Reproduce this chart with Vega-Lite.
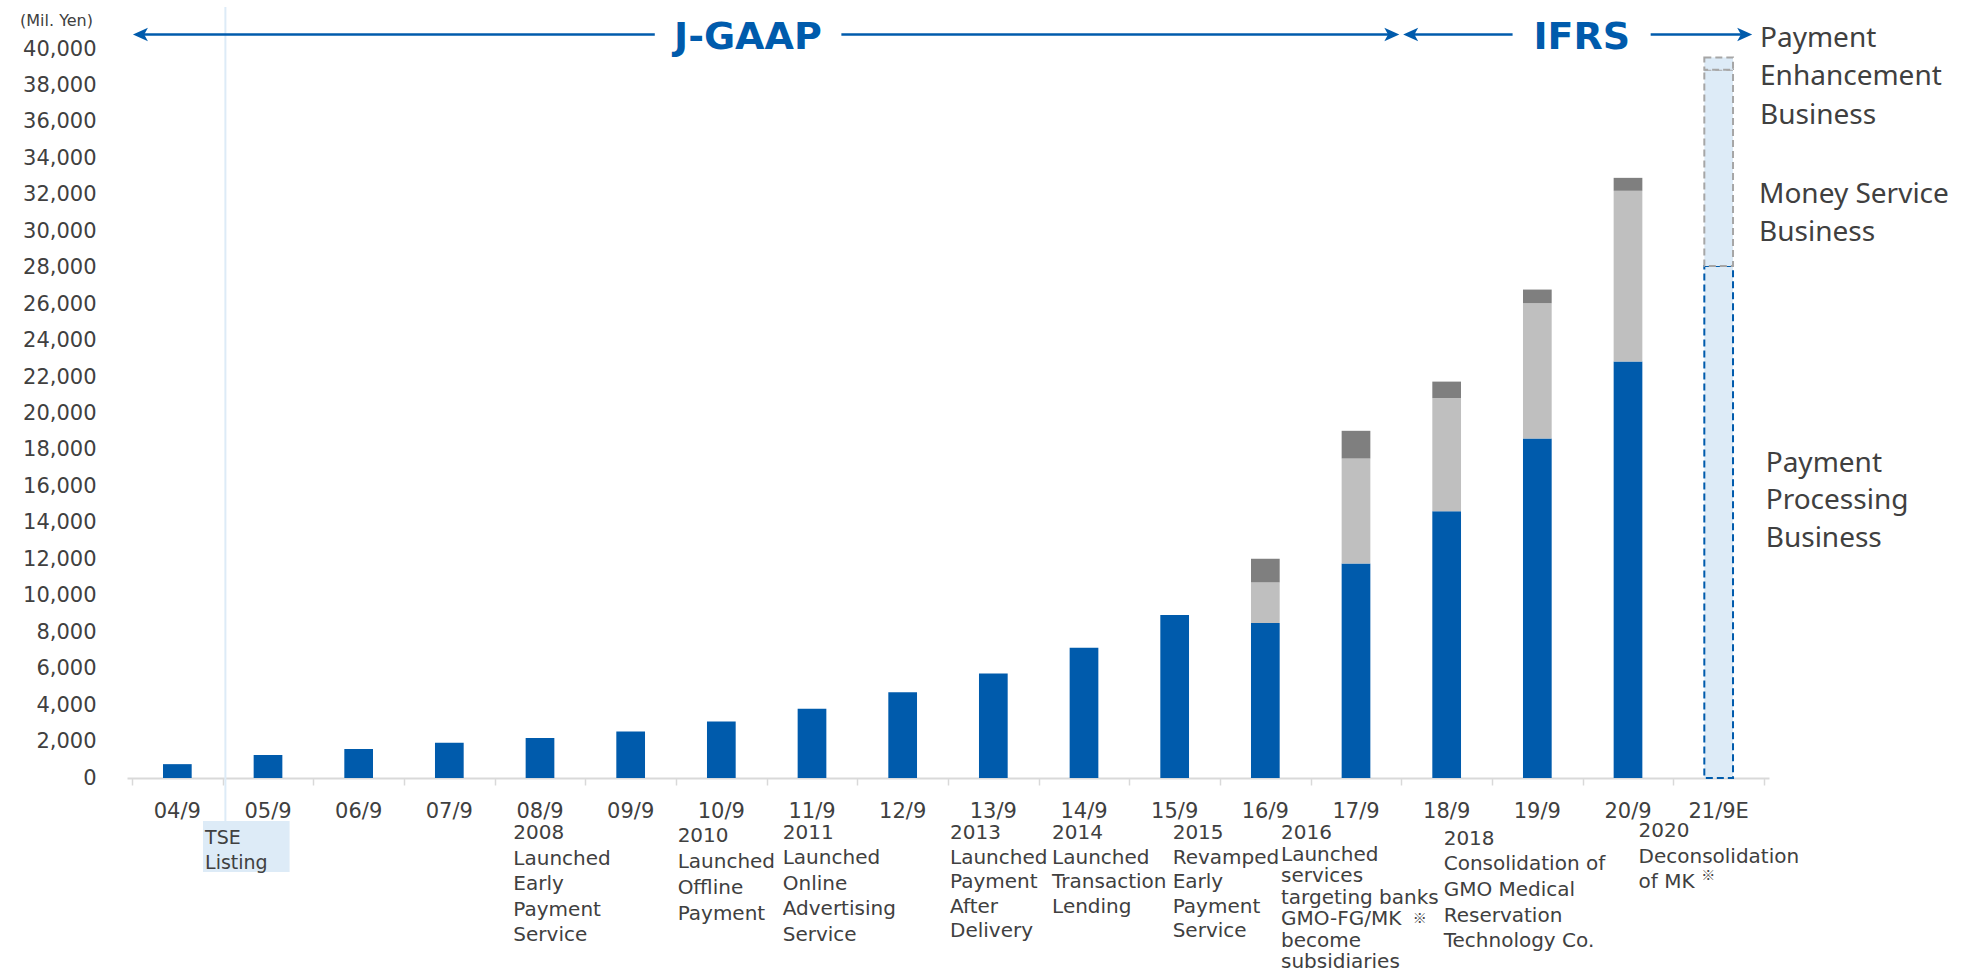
{
  "$schema": "https://vega.github.io/schema/vega-lite/v6.json",
  "width": 1642,
  "height": 729,
  "autosize": {"type": "none"},
  "padding": {"left": 127, "top": 49, "right": 212, "bottom": 196},
  "background": "#ffffff",
  "config": {"view": {"stroke": null}, "axis": {"grid": false, "labelOverlap": false, "labelSeparation": 0}, "axisY": {"labelOverlap": false}},
  "datasets": {
    "revenue": [
      {"period": "04/9", "fy": 2004, "segment": "Processing", "revenue": 760, "type": "actual"},
      {"period": "05/9", "fy": 2005, "segment": "Processing", "revenue": 1260, "type": "actual"},
      {"period": "06/9", "fy": 2006, "segment": "Processing", "revenue": 1590, "type": "actual"},
      {"period": "07/9", "fy": 2007, "segment": "Processing", "revenue": 1930, "type": "actual"},
      {"period": "08/9", "fy": 2008, "segment": "Processing", "revenue": 2200, "type": "actual"},
      {"period": "09/9", "fy": 2009, "segment": "Processing", "revenue": 2550, "type": "actual"},
      {"period": "10/9", "fy": 2010, "segment": "Processing", "revenue": 3100, "type": "actual"},
      {"period": "11/9", "fy": 2011, "segment": "Processing", "revenue": 3800, "type": "actual"},
      {"period": "12/9", "fy": 2012, "segment": "Processing", "revenue": 4700, "type": "actual"},
      {"period": "13/9", "fy": 2013, "segment": "Processing", "revenue": 5740, "type": "actual"},
      {"period": "14/9", "fy": 2014, "segment": "Processing", "revenue": 7150, "type": "actual"},
      {"period": "15/9", "fy": 2015, "segment": "Processing", "revenue": 8950, "type": "actual"},
      {"period": "16/9", "fy": 2016, "segment": "Processing", "revenue": 8500, "type": "actual"},
      {"period": "16/9", "fy": 2016, "segment": "Money Service", "revenue": 2230, "type": "actual"},
      {"period": "16/9", "fy": 2016, "segment": "Enhancement", "revenue": 1300, "type": "actual"},
      {"period": "17/9", "fy": 2017, "segment": "Processing", "revenue": 11770, "type": "actual"},
      {"period": "17/9", "fy": 2017, "segment": "Money Service", "revenue": 5760, "type": "actual"},
      {"period": "17/9", "fy": 2017, "segment": "Enhancement", "revenue": 1520, "type": "actual"},
      {"period": "18/9", "fy": 2018, "segment": "Processing", "revenue": 14640, "type": "actual"},
      {"period": "18/9", "fy": 2018, "segment": "Money Service", "revenue": 6200, "type": "actual"},
      {"period": "18/9", "fy": 2018, "segment": "Enhancement", "revenue": 910, "type": "actual"},
      {"period": "19/9", "fy": 2019, "segment": "Processing", "revenue": 18630, "type": "actual"},
      {"period": "19/9", "fy": 2019, "segment": "Money Service", "revenue": 7420, "type": "actual"},
      {"period": "19/9", "fy": 2019, "segment": "Enhancement", "revenue": 750, "type": "actual"},
      {"period": "20/9", "fy": 2020, "segment": "Processing", "revenue": 22850, "type": "actual"},
      {"period": "20/9", "fy": 2020, "segment": "Money Service", "revenue": 9370, "type": "actual"},
      {"period": "20/9", "fy": 2020, "segment": "Enhancement", "revenue": 710, "type": "actual"},
      {"period": "21/9E", "fy": 2021, "segment": "Processing", "revenue": 28100, "type": "forecast"},
      {"period": "21/9E", "fy": 2021, "segment": "Money Service", "revenue": 10760, "type": "forecast"},
      {"period": "21/9E", "fy": 2021, "segment": "Enhancement", "revenue": 680, "type": "forecast"}
    ]
  },
  "data": {"name": "revenue"},
  "layer": [
    {
      "transform": [{"filter": "datum.type === 'actual'"}],
      "mark": {"type": "bar", "width": 28.7},
      "encoding": {
        "x": {
          "field": "fy", "type": "quantitative",
          "scale": {"domain": [2003.5, 2021.5], "nice": false, "zero": false},
          "axis": {
            "values": [2003.5, 2004.5, 2005.5, 2006.5, 2007.5, 2008.5, 2009.5, 2010.5, 2011.5, 2012.5, 2013.5, 2014.5, 2015.5, 2016.5, 2017.5, 2018.5, 2019.5, 2020.5, 2021.5],
            "labels": false, "ticks": true, "tickSize": 7, "tickColor": "#D9D9D9", "tickWidth": 1.5,
            "domainColor": "#D9D9D9", "domainWidth": 2, "title": null, "grid": false
          }
        },
        "y": {
          "field": "revenue", "type": "quantitative", "stack": "zero",
          "scale": {"domain": [0, 40000], "nice": false},
          "axis": {
            "values": [0, 2000, 4000, 6000, 8000, 10000, 12000, 14000, 16000, 18000, 20000, 22000, 24000, 26000, 28000, 30000, 32000, 34000, 36000, 38000, 40000],
            "tickCount": 21,
            "format": ",.0f", "labelOverlap": false, "labelSeparation": 0, "ticks": false, "domain": false, "grid": false,
            "labelFont": "DejaVu Sans", "labelFontSize": 21, "labelColor": "#404040", "labelPadding": 31,
            "title": "(Mil. Yen)", "titleAngle": 0, "titleX": -71, "titleY": -29, "titleAlign": "center", "titleBaseline": "middle",
            "titleFont": "DejaVu Sans", "titleFontSize": 16, "titleFontWeight": "normal", "titleColor": "#404040"
          }
        },
        "color": {
          "field": "segment", "type": "nominal",
          "scale": {"domain": ["Processing", "Money Service", "Enhancement"], "range": ["#005BAC", "#BFBFBF", "#7F7F7F"]},
          "legend": null
        },
        "order": {"field": "segment", "sort": "descending"}
      }
    },
    {
      "transform": [{"filter": "datum.type === 'forecast'"}],
      "mark": {"type": "bar", "width": 28.7, "fill": "#DDEBF7", "strokeDash": [7, 4], "strokeWidth": 2},
      "encoding": {
        "x": {"field": "fy", "type": "quantitative"},
        "y": {"field": "revenue", "type": "quantitative", "stack": "zero"},
        "stroke": {
          "field": "segment", "type": "nominal",
          "scale": {"domain": ["Processing", "Money Service", "Enhancement"], "range": ["#005BAC", "#A6A6A6", "#A6A6A6"]},
          "legend": null
        },
        "order": {"field": "segment", "sort": "descending"}
      }
    },
    {
      "transform": [{"filter": "datum.segment === 'Processing'"}],
      "mark": {"type": "text", "font": "DejaVu Sans", "fontSize": 21, "fill": "#404040", "align": "center", "baseline": "middle"},
      "encoding": {
        "x": {"field": "fy", "type": "quantitative"},
        "y": {"datum": -1877, "type": "quantitative"},
        "text": {"field": "period"}
      }
    },
    {
      "data": {"values": [{}]},
      "mark": {"type": "rule", "color": "#DDEBF7", "strokeWidth": 2},
      "encoding": {"x": {"datum": 2004.53, "type": "quantitative"}, "y": {"datum": 42300, "type": "quantitative"}, "y2": {"datum": -2359}}
    },
    {
      "data": {"values": [{}]},
      "mark": {"type": "rect", "fill": "#DDEBF7"},
      "encoding": {"x": {"datum": 2004.283, "type": "quantitative"}, "x2": {"datum": 2005.238}, "y": {"datum": -2359, "type": "quantitative"}, "y2": {"datum": -5158}}
    },
    {
      "data": {"values": [{}]},
      "mark": {"type": "text", "text": ["TSE", "Listing"], "font": "DejaVu Sans", "fontSize": 19, "lineHeight": 25, "fill": "#404040", "align": "left", "baseline": "top"},
      "encoding": {"x": {"datum": 2004.306, "type": "quantitative"}, "y": {"datum": -2810, "type": "quantitative"}}
    },
    {
      "data": {"values": [{}]},
      "mark": {"type": "rule", "color": "#005BAC", "strokeWidth": 2.5},
      "encoding": {"x": {"datum": 2003.593, "type": "quantitative"}, "x2": {"datum": 2009.266}, "y": {"datum": 40800, "type": "quantitative"}}
    },
    {
      "data": {"values": [{}]},
      "mark": {"type": "rule", "color": "#005BAC", "strokeWidth": 2.5},
      "encoding": {"x": {"datum": 2011.324, "type": "quantitative"}, "x2": {"datum": 2017.395}, "y": {"datum": 40800, "type": "quantitative"}}
    },
    {
      "data": {"values": [{}]},
      "mark": {"type": "rule", "color": "#005BAC", "strokeWidth": 2.5},
      "encoding": {"x": {"datum": 2017.603, "type": "quantitative"}, "x2": {"datum": 2018.727}, "y": {"datum": 40800, "type": "quantitative"}}
    },
    {
      "data": {"values": [{}]},
      "mark": {"type": "rule", "color": "#005BAC", "strokeWidth": 2.5},
      "encoding": {"x": {"datum": 2020.25, "type": "quantitative"}, "x2": {"datum": 2021.287}, "y": {"datum": 40800, "type": "quantitative"}}
    },
    {
      "data": {"values": [{}]},
      "mark": {"type": "point", "shape": "M -1 0 L 1 -0.9 L 0.5 0 L 1 0.9 Z", "size": 225, "filled": true, "fill": "#005BAC", "opacity": 1, "strokeWidth": 0},
      "encoding": {"x": {"datum": 2003.593, "type": "quantitative"}, "y": {"datum": 40800, "type": "quantitative"}}
    },
    {
      "data": {"values": [{}]},
      "mark": {"type": "point", "shape": "M 1 0 L -1 -0.9 L -0.5 0 L -1 0.9 Z", "size": 225, "filled": true, "fill": "#005BAC", "opacity": 1, "strokeWidth": 0},
      "encoding": {"x": {"datum": 2017.395, "type": "quantitative"}, "y": {"datum": 40800, "type": "quantitative"}}
    },
    {
      "data": {"values": [{}]},
      "mark": {"type": "point", "shape": "M -1 0 L 1 -0.9 L 0.5 0 L 1 0.9 Z", "size": 225, "filled": true, "fill": "#005BAC", "opacity": 1, "strokeWidth": 0},
      "encoding": {"x": {"datum": 2017.603, "type": "quantitative"}, "y": {"datum": 40800, "type": "quantitative"}}
    },
    {
      "data": {"values": [{}]},
      "mark": {"type": "point", "shape": "M 1 0 L -1 -0.9 L -0.5 0 L -1 0.9 Z", "size": 225, "filled": true, "fill": "#005BAC", "opacity": 1, "strokeWidth": 0},
      "encoding": {"x": {"datum": 2021.287, "type": "quantitative"}, "y": {"datum": 40800, "type": "quantitative"}}
    },
    {
      "data": {"values": [{}]},
      "mark": {"type": "text", "text": "J-GAAP", "font": "DejaVu Sans", "fontSize": 38, "fontWeight": "bold", "fill": "#005BAC", "align": "center", "baseline": "middle"},
      "encoding": {"x": {"datum": 2010.293, "type": "quantitative"}, "y": {"datum": 40600, "type": "quantitative"}}
    },
    {
      "data": {"values": [{}]},
      "mark": {"type": "text", "text": "IFRS", "font": "DejaVu Sans", "fontSize": 38, "fontWeight": "bold", "fill": "#005BAC", "align": "center", "baseline": "middle"},
      "encoding": {"x": {"datum": 2019.49, "type": "quantitative"}, "y": {"datum": 40600, "type": "quantitative"}}
    },
    {
      "data": {"values": [{}]},
      "mark": {"type": "text", "text": ["Payment", "Enhancement", "Business"], "font": "Noto Sans", "fontSize": 28, "lineHeight": 38.5, "fill": "#404040", "align": "left", "baseline": "top"},
      "encoding": {"x": {"datum": 2021.456, "type": "quantitative"}, "y": {"datum": 41330, "type": "quantitative"}}
    },
    {
      "data": {"values": [{}]},
      "mark": {"type": "text", "text": ["Money Service", "Business"], "font": "Noto Sans", "fontSize": 28, "lineHeight": 37.5, "fill": "#404040", "align": "left", "baseline": "top"},
      "encoding": {"x": {"datum": 2021.445, "type": "quantitative"}, "y": {"datum": 32740, "type": "quantitative"}}
    },
    {
      "data": {"values": [{}]},
      "mark": {"type": "text", "text": ["Payment", "Processing", "Business"], "font": "Noto Sans", "fontSize": 28, "lineHeight": 37.5, "fill": "#404040", "align": "left", "baseline": "top"},
      "encoding": {"x": {"datum": 2021.519, "type": "quantitative"}, "y": {"datum": 18010, "type": "quantitative"}}
    },
    {
      "data": {"values": [{}]},
      "mark": {"type": "text", "text": ["2008", "Launched", "Early", "Payment", "Service"], "font": "DejaVu Sans", "fontSize": 20, "lineHeight": 25.5, "fill": "#404040", "align": "left", "baseline": "top"},
      "encoding": {"x": {"datum": 2007.706, "type": "quantitative"}, "y": {"datum": -2480, "type": "quantitative"}}
    },
    {
      "data": {"values": [{}]},
      "mark": {"type": "text", "text": ["2010", "Launched", "Offline", "Payment"], "font": "DejaVu Sans", "fontSize": 20, "lineHeight": 26, "fill": "#404040", "align": "left", "baseline": "top"},
      "encoding": {"x": {"datum": 2009.518, "type": "quantitative"}, "y": {"datum": -2650, "type": "quantitative"}}
    },
    {
      "data": {"values": [{}]},
      "mark": {"type": "text", "text": ["2011", "Launched", "Online", "Advertising", "Service"], "font": "DejaVu Sans", "fontSize": 20, "lineHeight": 25.5, "fill": "#404040", "align": "left", "baseline": "top"},
      "encoding": {"x": {"datum": 2010.677, "type": "quantitative"}, "y": {"datum": -2460, "type": "quantitative"}}
    },
    {
      "data": {"values": [{}]},
      "mark": {"type": "text", "text": ["2013", "Launched", "Payment", "After", "Delivery"], "font": "DejaVu Sans", "fontSize": 20, "lineHeight": 24.5, "fill": "#404040", "align": "left", "baseline": "top"},
      "encoding": {"x": {"datum": 2012.522, "type": "quantitative"}, "y": {"datum": -2486, "type": "quantitative"}}
    },
    {
      "data": {"values": [{}]},
      "mark": {"type": "text", "text": ["2014", "Launched", "Transaction", "Lending"], "font": "DejaVu Sans", "fontSize": 20, "lineHeight": 24.5, "fill": "#404040", "align": "left", "baseline": "top"},
      "encoding": {"x": {"datum": 2013.648, "type": "quantitative"}, "y": {"datum": -2486, "type": "quantitative"}}
    },
    {
      "data": {"values": [{}]},
      "mark": {"type": "text", "text": ["2015", "Revamped", "Early", "Payment", "Service"], "font": "DejaVu Sans", "fontSize": 20, "lineHeight": 24.5, "fill": "#404040", "align": "left", "baseline": "top"},
      "encoding": {"x": {"datum": 2014.978, "type": "quantitative"}, "y": {"datum": -2486, "type": "quantitative"}}
    },
    {
      "data": {"values": [{}]},
      "mark": {"type": "text", "text": ["2016", "Launched", "services", "targeting banks", "GMO-FG/MK", "become", "subsidiaries"], "font": "DejaVu Sans", "fontSize": 20, "lineHeight": 21.5, "fill": "#404040", "align": "left", "baseline": "top"},
      "encoding": {"x": {"datum": 2016.173, "type": "quantitative"}, "y": {"datum": -2486, "type": "quantitative"}}
    },
    {
      "data": {"values": [{}]},
      "mark": {"type": "text", "text": "※", "font": "Noto Sans CJK JP", "fontSize": 14, "fill": "#404040", "align": "center", "baseline": "middle"},
      "encoding": {"x": {"datum": 2017.702, "type": "quantitative"}, "y": {"datum": -7720, "type": "quantitative"}}
    },
    {
      "data": {"values": [{}]},
      "mark": {"type": "text", "text": ["2018", "Consolidation of", "GMO Medical", "Reservation", "Technology Co."], "font": "DejaVu Sans", "fontSize": 20, "lineHeight": 25.7, "fill": "#404040", "align": "left", "baseline": "top"},
      "encoding": {"x": {"datum": 2017.967, "type": "quantitative"}, "y": {"datum": -2776, "type": "quantitative"}}
    },
    {
      "data": {"values": [{}]},
      "mark": {"type": "text", "text": ["2020", "Deconsolidation", "of MK"], "font": "DejaVu Sans", "fontSize": 20, "lineHeight": 25.5, "fill": "#404040", "align": "left", "baseline": "top"},
      "encoding": {"x": {"datum": 2020.116, "type": "quantitative"}, "y": {"datum": -2376, "type": "quantitative"}}
    },
    {
      "data": {"values": [{}]},
      "mark": {"type": "text", "text": "※", "font": "Noto Sans CJK JP", "fontSize": 14, "fill": "#404040", "align": "center", "baseline": "middle"},
      "encoding": {"x": {"datum": 2020.886, "type": "quantitative"}, "y": {"datum": -5400, "type": "quantitative"}}
    }
  ]
}
